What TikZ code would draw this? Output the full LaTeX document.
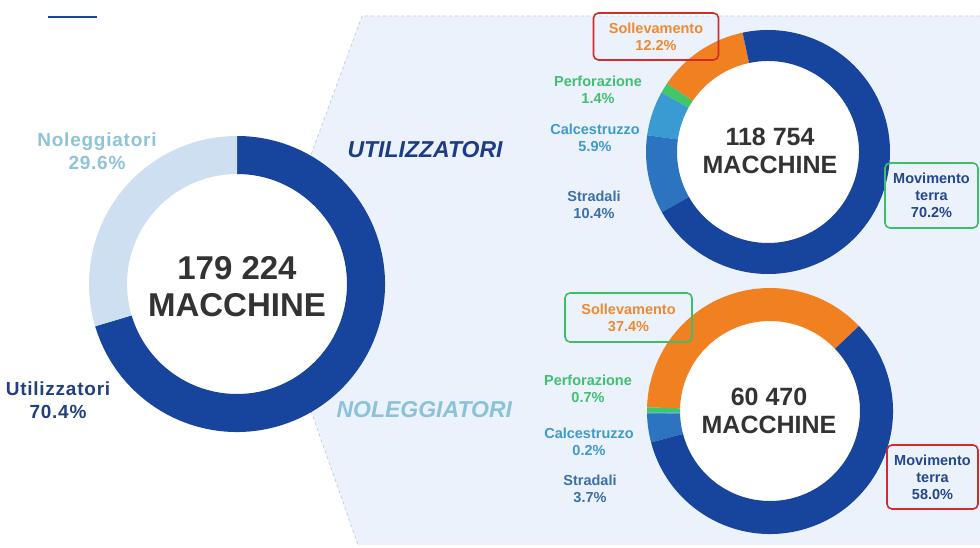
\documentclass[tikz,border=0pt]{standalone}
\usepackage{fontspec}
\setmainfont{Liberation Sans}
\newfontfamily\spacedfont{Liberation Sans}[LetterSpace=4]
\usetikzlibrary{calc}
\definecolor{dblue}{HTML}{17449C}
\definecolor{lring}{HTML}{CDDFF1}
\definecolor{orng}{HTML}{F08020}
\definecolor{grn}{HTML}{40C868}
\definecolor{calc}{HTML}{3A9AD2}
\definecolor{strad}{HTML}{2C74C0}
\definecolor{regionbg}{HTML}{EBF2FC}
\definecolor{regionln}{HTML}{C5CFDC}
\definecolor{txtgray}{HTML}{333333}
\definecolor{nolegtxt}{HTML}{8FC3D8}
\definecolor{utiltxt}{HTML}{23407E}
\definecolor{utilcap}{HTML}{1D3C86}
\definecolor{nolegcap}{HTML}{8AC2D9}
\definecolor{solltxt}{HTML}{EE8A30}
\definecolor{perftxt}{HTML}{40C070}
\definecolor{calctxt}{HTML}{3F9BC9}
\definecolor{stradtxt}{HTML}{3D6FA8}
\definecolor{movtxt}{HTML}{24478D}
\definecolor{boxred}{HTML}{D42A2A}
\definecolor{boxgreen}{HTML}{3CBF6A}
\newcommand{\ringseg}[6]{%
  \fill[#6] ([shift={(#4:#2pt)}]#1) arc[start angle=#4, end angle=#5, radius=#2pt]
    -- ([shift={(#5:#3pt)}]#1) arc[start angle=#5, end angle=#4, radius=#3pt] -- cycle;}
\tikzset{
  lbl/.style={align=center, inner sep=1pt, font=\fontsize{14.5}{17}\selectfont\bfseries},
  lbox/.style={lbl, draw, line width=1.6pt, rounded corners=5pt},
  bigcenter/.style={align=center, text=txtgray, font=\fontsize{33}{37}\selectfont\bfseries},
  smallcenter/.style={align=center, text=txtgray, font=\fontsize{25}{28}\selectfont\bfseries},
  sidelbl/.style={align=center, font=\fontsize{19}{23}\selectfont\spacedfont\bfseries},
  groupcap/.style={anchor=west, font=\fontsize{23}{26}\selectfont\bfseries\itshape}
}
\begin{document}
\begin{tikzpicture}[x=1pt,y=1pt]
\useasboundingbox (0,0) rectangle (980,547);
\fill[white] (0,0) rectangle (980,547);
% light region (chevron)
\fill[regionbg] (362,531) -- (265,267) -- (358,2) -- (980,2) -- (980,531) -- cycle;
\draw[regionln, dashed, line width=0.8pt] (980,531) -- (362,531) -- (265,267) -- (358,2);
% top-left accent line
\draw[dblue, line width=2.5pt] (48,530) -- (97,530);
% big donut
\coordinate (bigc) at (237,263);
\fill[white] (bigc) circle[radius=111pt];
\ringseg{bigc}{148}{110}{-163.4}{90}{dblue}
\ringseg{bigc}{148}{110}{90}{196.6}{lring}
\node[bigcenter] (bigtxt) at (237,260.5) {179 224\\MACCHINE};
\node[sidelbl, text=nolegtxt] (nolegl) at (97,396) {Noleggiatori\\29.6\%};
\node[sidelbl, text=utiltxt] (utill) at (58,147) {Utilizzatori\\70.4\%};
\node[groupcap, text=utilcap] (utilcap) at (344,397) {UTILIZZATORI};
\node[groupcap, text=nolegcap] (nolegcap) at (333,137) {NOLEGGIATORI};
% top donut (utilizzatori)
\coordinate (topc) at (768,395);
\fill[white] (topc) circle[radius=92pt];
\ringseg{topc}{122}{91}{102}{145.9}{orng}
\ringseg{topc}{122}{91}{145.9}{150.9}{grn}
\ringseg{topc}{122}{91}{150.9}{172.1}{calc}
\ringseg{topc}{122}{91}{172.1}{209.6}{strad}
\ringseg{topc}{122}{91}{209.6}{462}{dblue}
\node[smallcenter] (toptxt) at (770,396) {118 754\\MACCHINE};
\node[lbox, draw=boxred, text=solltxt, minimum width=125pt, minimum height=47pt] (sollU) at (656,510.5) {Sollevamento\\12.2\%};
\node[lbl, text=perftxt] (perfU) at (598,457) {Perforazione\\1.4\%};
\node[lbl, text=calctxt] (calcU) at (595,409.5) {Calcestruzzo\\5.9\%};
\node[lbl, text=stradtxt] (stradU) at (594,342) {Stradali\\10.4\%};
\node[lbox, draw=boxgreen, text=movtxt, minimum width=93pt, minimum height=65pt] (movU) at (931.5,351.5) {Movimento\\terra\\70.2\%};
% bottom donut (noleggiatori)
\coordinate (botc) at (770,136);
\fill[white] (botc) circle[radius=91pt];
\ringseg{botc}{123}{90}{43.7}{178.3}{orng}
\ringseg{botc}{123}{90}{178.3}{180.8}{grn}
\ringseg{botc}{123}{90}{180.8}{181.5}{calc}
\ringseg{botc}{123}{90}{181.5}{194.8}{strad}
\ringseg{botc}{123}{90}{194.8}{403.7}{dblue}
\node[smallcenter] (bottxt) at (769,136) {60 470\\MACCHINE};
\node[lbox, draw=boxgreen, text=solltxt, minimum width=127pt, minimum height=49pt] (sollN) at (628.5,229.5) {Sollevamento\\37.4\%};
\node[lbl, text=perftxt] (perfN) at (588,158) {Perforazione\\0.7\%};
\node[lbl, text=calctxt] (calcN) at (589,105) {Calcestruzzo\\0.2\%};
\node[lbl, text=stradtxt] (stradN) at (590,58.5) {Stradali\\3.7\%};
\node[lbox, draw=boxred, text=movtxt, minimum width=91pt, minimum height=64pt] (movN) at (932.5,70) {Movimento\\terra\\58.0\%};
\end{tikzpicture}
\end{document}
